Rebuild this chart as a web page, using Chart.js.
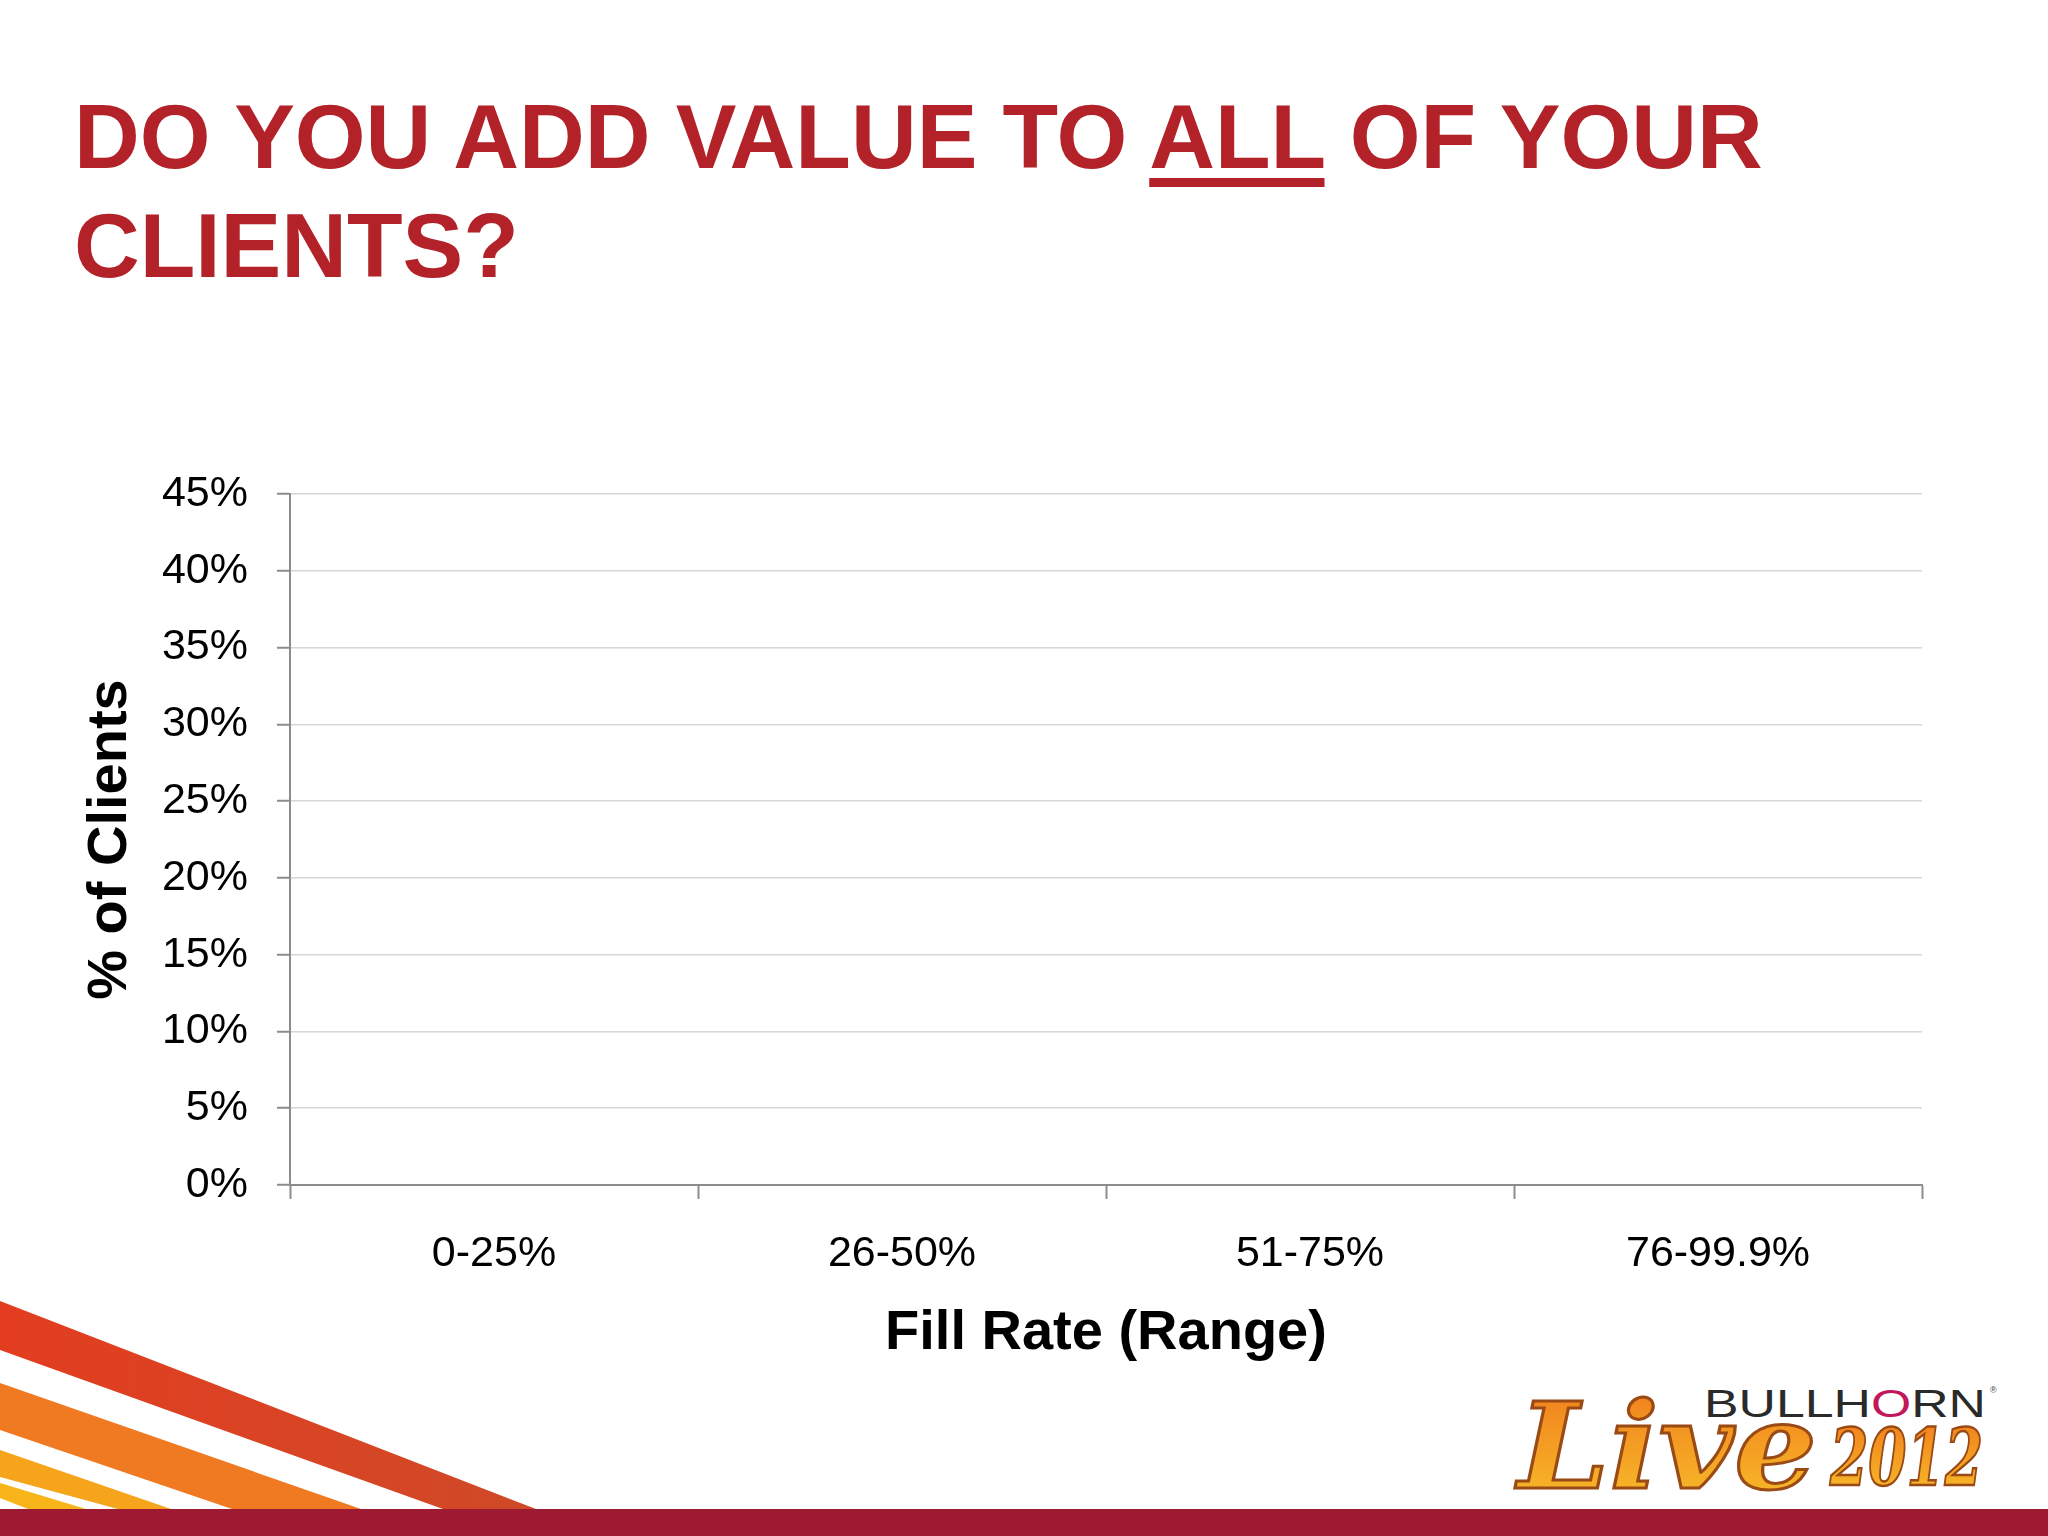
<!DOCTYPE html>
<html>
<head>
<meta charset="utf-8">
<script src="https://cdn.jsdelivr.net/npm/chart.js@4.4.1/dist/chart.umd.min.js"></script>
<style>
  html, body { margin: 0; padding: 0; background: #fff; }
  #page { position: relative; width: 2048px; height: 1536px; overflow: hidden; background: #fff; }
  #deco, #chart { position: absolute; left: 0; top: 0; }
</style>
</head>
<body>
<div id="page">
  <svg id="deco" width="2048" height="1536" xmlns="http://www.w3.org/2000/svg">
    <defs>
      <linearGradient id="redBand" x1="0" x2="1" y1="0" y2="0">
        <stop offset="0" stop-color="#e33d20"/>
        <stop offset="1" stop-color="#cf4a27"/>
      </linearGradient>
      <linearGradient id="liveFill" x1="0" x2="0" y1="0" y2="1">
        <stop offset="0" stop-color="#f07a1c"/>
        <stop offset="1" stop-color="#f8c02a"/>
      </linearGradient>
    </defs>
    <g font-family="'Liberation Sans', Arial, sans-serif" font-weight="bold" font-size="91" fill="#b22228">
      <text id="titleLine1" x="74" y="168">DO YOU ADD VALUE TO ALL OF YOUR</text>
      <text x="74" y="277">CLIENTS?</text>
    </g>
    <rect id="allUnderline" x="1147" y="178" width="176" height="9" fill="#b22228"/>

    <polygon points="0,1301 536,1509 443,1509 0,1350" fill="url(#redBand)"/>
    <polygon points="0,1383 361,1509 232,1509 0,1430" fill="#f07a21"/>
    <polygon points="0,1450 171,1509 118,1509 0,1477" fill="#f5a41b"/>
    <polygon points="0,1483 86,1509 28,1509 0,1498" fill="#f7b51a"/>
    <rect x="0" y="1509" width="2048" height="27" fill="#9d1a32"/>

    <text x="1704" y="1417" font-family="'Liberation Sans', Arial, sans-serif" font-size="38"
          fill="#2a2a2a" textLength="282" lengthAdjust="spacingAndGlyphs">BULLH<tspan fill="#c2185b">O</tspan>RN</text>
    <text x="1990" y="1393" font-family="'Liberation Sans', Arial, sans-serif" font-size="9" fill="#444">®</text>
    <text x="1518" y="1488" font-family="'DejaVu Serif', serif" font-weight="bold" font-style="italic"
          font-size="120" fill="url(#liveFill)" stroke="#9a4a14" stroke-width="3"
          textLength="299" lengthAdjust="spacingAndGlyphs">Live</text>
    <text x="1830" y="1485" font-family="'DejaVu Serif', serif" font-weight="bold" font-style="italic"
          font-size="78" fill="url(#liveFill)" stroke="#9a4a14" stroke-width="2.5"
          textLength="153" lengthAdjust="spacingAndGlyphs">2012</text>
  </svg>
  <canvas id="chart" width="2048" height="1536"></canvas>
</div>
<script>
// chart values (no bars are drawn in the reference)
var fillRanges = ["0-25%", "26-50%", "51-75%", "76-99.9%"];
var clientShares = [null, null, null, null];
var yTickValues = [0, 5, 10, 15, 20, 25, 30, 35, 40, 45];
var yTickLabels = ["0%", "5%", "10%", "15%", "20%", "25%", "30%", "35%", "40%", "45%"];

// put the underline under the word ALL
var line1 = document.getElementById("titleLine1");
var start = line1.textContent.indexOf("ALL");
var ux0 = line1.getStartPositionOfChar(start).x;
var ux1 = line1.getEndPositionOfChar(start + 2).x;
var ul = document.getElementById("allUnderline");
ul.setAttribute("x", ux0);
ul.setAttribute("width", ux1 - ux0);

Chart.defaults.font.family = "'Liberation Sans', Arial, sans-serif";
Chart.defaults.color = "#000";

var ctx = document.getElementById("chart").getContext("2d");
new Chart(ctx, {
    type: "bar",
    data: {
        labels: fillRanges,
        datasets: [{ label: "% of Clients", data: clientShares, backgroundColor: "#b22228" }]
    },
    options: {
        responsive: false,
        animation: false,
        devicePixelRatio: 1,
        layout: { padding: { left: 0, top: 494, right: 126, bottom: 0 } },
        plugins: { legend: { display: false }, tooltip: { enabled: false } },
        scales: {
            x: {
                afterFit: function(scale) { scale.height = 351; },
                grid: { drawOnChartArea: false, drawTicks: true, tickLength: 14, tickColor: "#8c8c8c", tickWidth: 2, offset: true },
                border: { color: "#8c8c8c", width: 2 },
                ticks: { font: { size: 43 }, padding: 29, color: "#000", maxRotation: 0 },
                title: { display: true, text: "Fill Rate (Range)", font: { size: 56, weight: "bold" }, color: "#000", padding: { bottom: 169 } }
            },
            y: {
                min: 0,
                max: 45,
                afterFit: function(scale) { scale.width = 290; },
                afterBuildTicks: function(scale) {
                    scale.ticks = yTickValues.map(function(v) { return { value: v }; });
                },
                grid: { color: "#d6d6d6", lineWidth: 1.5, tickLength: 13, tickColor: "#8c8c8c", tickWidth: 2 },
                border: { color: "#8c8c8c", width: 2 },
                ticks: {
                    font: { size: 43 },
                    padding: 29,
                    color: "#000",
                    callback: function(v) { return yTickLabels[yTickValues.indexOf(v)]; }
                },
                title: { display: true, text: "% of Clients", font: { size: 56, weight: "bold" }, color: "#000", padding: { top: 77 } }
            }
        }
    }
});
</script>
</body>
</html>
